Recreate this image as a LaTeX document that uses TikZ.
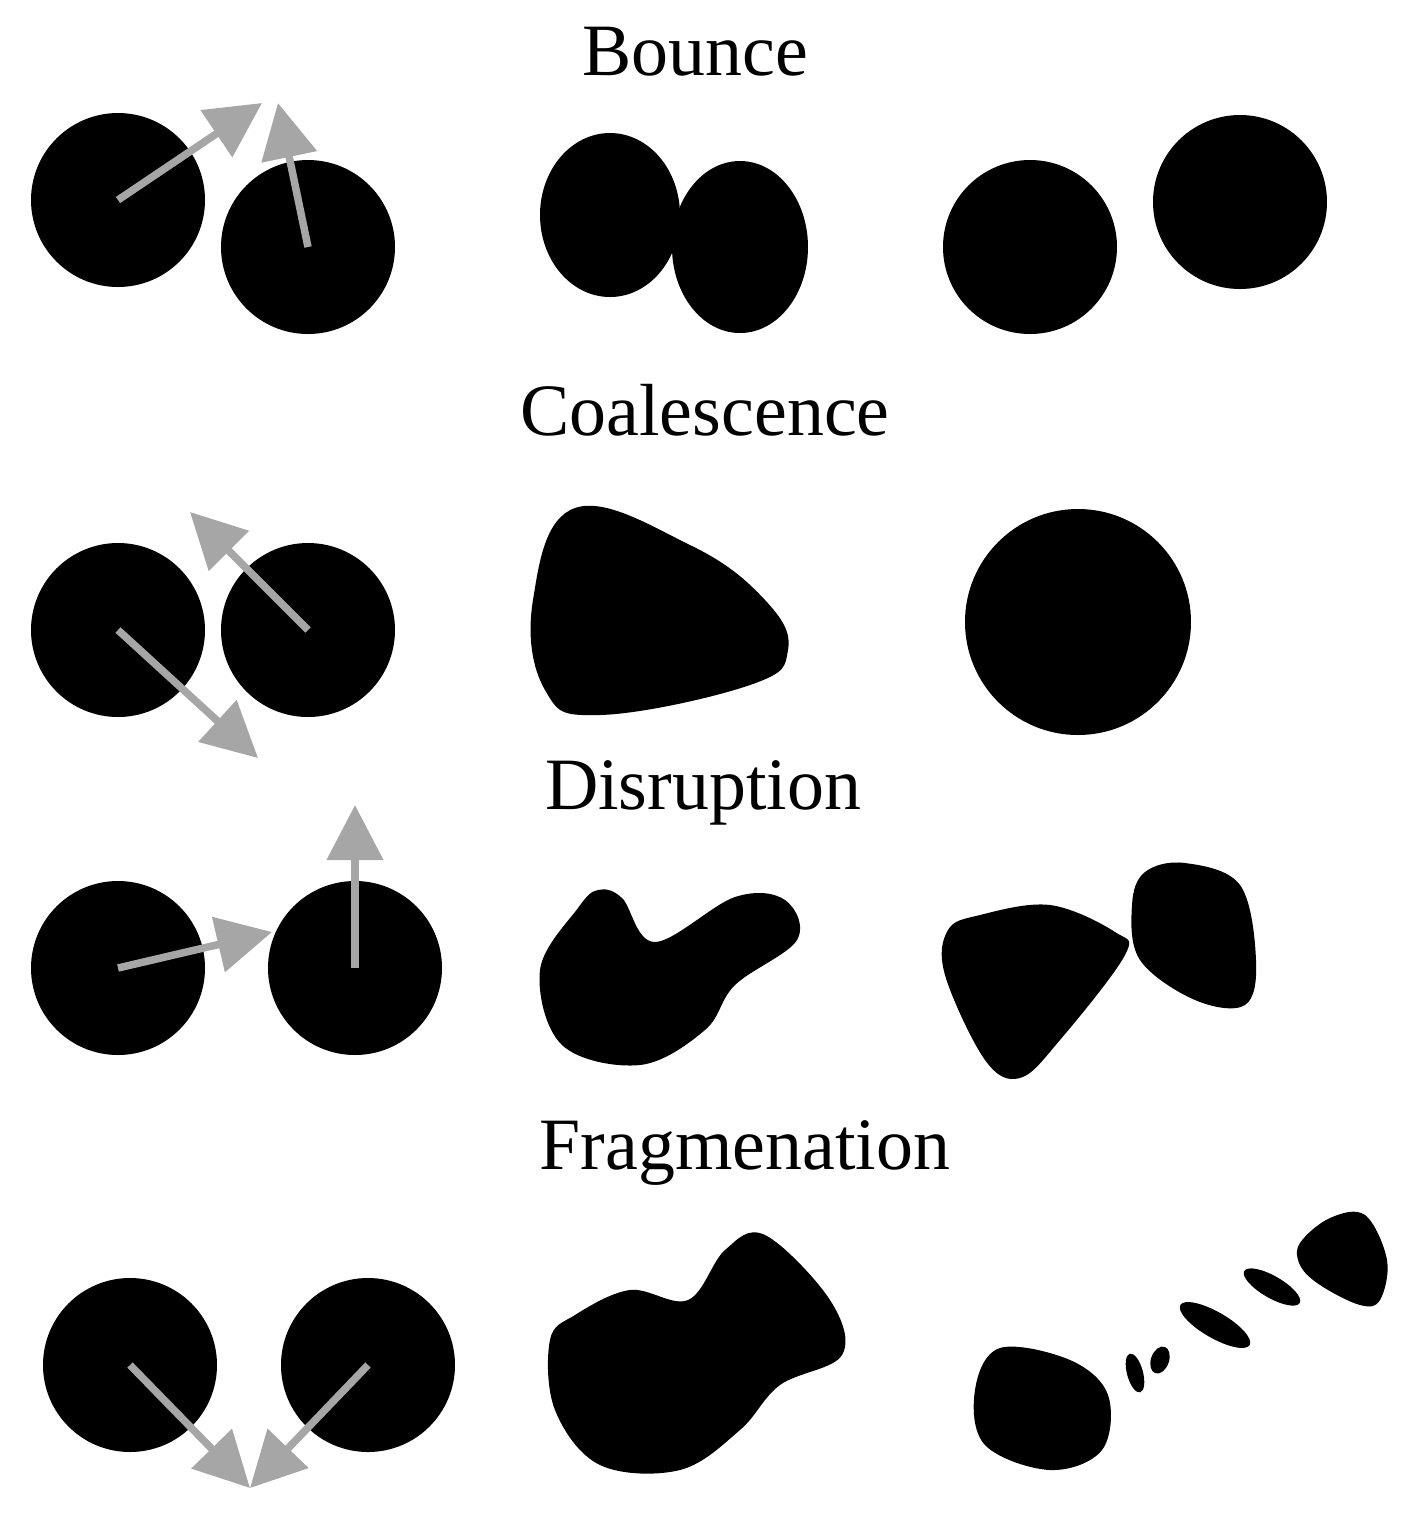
\documentclass[tikz,border=0pt]{standalone}
\usepackage{fontspec}
\setmainfont{Liberation Serif}
\usetikzlibrary{arrows.meta}

\begin{document}
\begin{tikzpicture}[x=0.01cm,y=-0.01cm,
	drop/.style={fill=black},
	vel/.style={draw=black!35,line width=0.075cm,-{Triangle[length=0.55cm,width=0.55cm]}},
	title/.style={font=\fontsize{21}{24}\selectfont}]
	\useasboundingbox (0,0) rectangle (1415,1532);
	
	%titles
	\node[title] (tb) at (695,52)   {Bounce};
	\node[title] (tc) at (705,410)  {Coalescence};
	\node[title] (td) at (703,793)  {Disruption};
	\node[title] (tf) at (745,1153) {Fragmenation};
	
	%bounce
	\fill[drop] (118,200) circle (87);
	\fill[drop] (308,247) circle (87);
	\coordinate (b1) at (118,200); \coordinate (b1e) at (262,103);
	\coordinate (b2) at (308,247); \coordinate (b2e) at (278,103);
	\draw[vel] (b1)--(b1e);
	\draw[vel] (b2)--(b2e);
	\fill[drop] (610,215) ellipse (70 and 82);
	\fill[drop] (740,247) ellipse (68 and 86);
	\fill[drop] (1030,247) circle (87);
	\fill[drop] (1240,202) circle (87);
	
	%coalescence
	\fill[drop] (118,630) circle (87);
	\fill[drop] (308,630) circle (87);
	\coordinate (c1) at (118,630); \coordinate (c1e) at (258,758);
	\coordinate (c2) at (308,630); \coordinate (c2e) at (190,512);
	\draw[vel] (c1)--(c1e);
	\draw[vel] (c2)--(c2e);
	\fill[drop] plot[smooth cycle,tension=0.7] coordinates {(575,508) (690,545) (765,600) (788,650) (750,685) (600,715) (545,690) (533,600)};
	\fill[drop] (1078,622) circle (113);
	
	%disruption
	\fill[drop] (118,968) circle (87);
	\fill[drop] (355,968) circle (87);
	\coordinate (d1) at (118,968); \coordinate (d1e) at (272,932);
	\coordinate (d2) at (355,968); \coordinate (d2e) at (355,805);
	\draw[vel] (d1)--(d1e);
	\draw[vel] (d2)--(d2e);
	\fill[drop] plot[smooth cycle,tension=0.6] coordinates {(598,890) (622,898) (655,942) (735,897) (785,900) (797,940) (735,985) (705,1030) (640,1065) (562,1045) (540,970) (578,908)};
	\fill[drop] plot[smooth cycle,tension=0.6] coordinates {(980,915) (1050,905) (1115,932) (1125,955) (1060,1040) (1020,1078) (985,1060) (945,975) (948,930)};
	\fill[drop] plot[smooth cycle,tension=0.6] coordinates {(1145,872) (1185,863) (1240,885) (1256,960) (1245,1005) (1195,1000) (1140,960) (1132,905)};
	
	%fragmentation
	\fill[drop] (130,1365) circle (87);
	\fill[drop] (368,1365) circle (87);
	\coordinate (f1) at (130,1365); \coordinate (f1e) at (250,1488);
	\coordinate (f2) at (368,1365); \coordinate (f2e) at (250,1488);
	\draw[vel] (f1)--(f1e);
	\draw[vel] (f2)--(f2e);
	\fill[drop] plot[smooth cycle,tension=0.6] coordinates {(575,1315) (630,1290) (688,1300) (725,1250) (765,1235) (830,1300) (842,1355) (780,1385) (740,1430) (680,1470) (600,1465) (555,1410) (550,1340)};
	\fill[drop] plot[smooth cycle,tension=0.6] coordinates {(1000,1348) (1070,1360) (1108,1395) (1102,1450) (1050,1470) (985,1445) (975,1390)};
	\fill[drop] (1135,1373) ellipse[x radius=8,y radius=20,rotate=15];
	\fill[drop] (1160,1360) ellipse[x radius=9,y radius=14,rotate=-20];
	\fill[drop] (1215,1325) ellipse[x radius=40,y radius=13,rotate=-30];
	\fill[drop] (1272,1287) ellipse[x radius=32,y radius=11,rotate=-30];
	\fill[drop] plot[smooth cycle,tension=0.6] coordinates {(1300,1243) (1330,1218) (1365,1215) (1387,1260) (1380,1300) (1360,1305) (1320,1285) (1300,1265)};
\end{tikzpicture}
\end{document}
